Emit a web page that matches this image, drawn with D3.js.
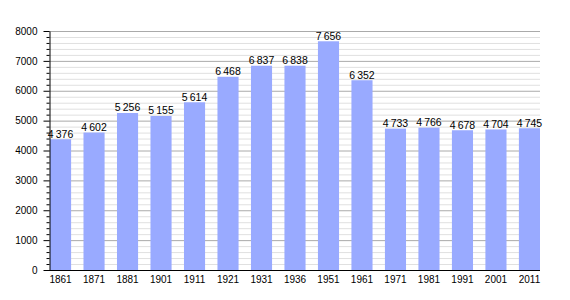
<!DOCTYPE html>
<html>
<head>
<meta charset="utf-8">
<script src="https://cdn.jsdelivr.net/npm/d3@7"></script>
<style>
body { margin: 0; background: #fff; }
text { font-family: "Liberation Sans", Arial, sans-serif; }
</style>
</head>
<body>
<svg id="chart"></svg>
<script>
// data
var years = ["1861", "1871", "1881", "1901", "1911", "1921", "1931", "1936", "1951", "1961", "1971", "1981", "1991", "2001", "2011"];
var population = [4376, 4602, 5256, 5155, 5614, 6468, 6837, 6838, 7656, 6352, 4733, 4766, 4678, 4704, 4745];
var yTicks = [0, 1000, 2000, 3000, 4000, 5000, 6000, 7000, 8000];

var width = 570, height = 300;
var mLeft = 49, mRight = 540, mTop = 31, mBottom = 270;

var svg = d3.select("#chart").attr("width", width).attr("height", height);

var x = d3.scaleBand().domain(years).range([mLeft + 1, mRight]).paddingInner(0.37).paddingOuter(0);
var y = d3.scaleLinear().domain([0, 8000]).range([mBottom, mTop]);

// minor grid every 200
var minor = d3.range(200, 8001, 200).filter(v => v % 1000 !== 0);
svg.selectAll(".minor").data(minor).enter().append("line")
    .attr("x1", mLeft).attr("x2", mRight)
    .attr("y1", d => y(d) + 0.5).attr("y2", d => y(d) + 0.5)
    .attr("stroke", "#e0e0e0");
svg.selectAll(".major").data(yTicks.slice(1)).enter().append("line")
    .attr("x1", mLeft).attr("x2", mRight)
    .attr("y1", d => y(d) + 0.5).attr("y2", d => y(d) + 0.5)
    .attr("stroke", "#aaaaaa");

// bars
svg.selectAll(".bar").data(population).enter().append("rect")
    .attr("x", (d, i) => x(years[i]))
    .attr("width", x.bandwidth())
    .attr("y", d => y(d))
    .attr("height", d => mBottom - y(d))
    .attr("fill", "#99aaff");

// value labels
var fmt = d3.formatLocale({ decimal: ",", thousands: "\u2009", grouping: [3] }).format(",");
svg.selectAll(".label").data(population).enter().append("text")
    .attr("x", (d, i) => x(years[i]) + x.bandwidth() / 2)
    .attr("y", d => y(d) - 1.5)
    .attr("text-anchor", "middle")
    .attr("font-size", 10.5)
    .attr("fill", "#000")
    .text(d => fmt(d));

// y axis
var yAxis = svg.append("g").attr("transform", "translate(" + (mLeft + 0.5) + ",0)")
    .call(d3.axisLeft(y).tickValues(yTicks).tickFormat(d3.format("d")).tickSize(6).tickSizeOuter(0).tickPadding(6));
yAxis.select(".domain").attr("stroke", "#000");
yAxis.selectAll("text").attr("font-size", 10).attr("font-family", "Liberation Sans, Arial, sans-serif").attr("fill", "#000");
svg.append("g").attr("transform", "translate(" + (mLeft + 0.5) + ",0)")
    .call(d3.axisLeft(y).tickValues(minor).tickSize(3).tickFormat(""))
    .select(".domain").remove();

// x axis
var xAxis = svg.append("g").attr("transform", "translate(0," + (mBottom + 0.5) + ")")
    .call(d3.axisBottom(x).tickSize(0).tickPadding(5));
xAxis.select(".domain").attr("d", "M" + mLeft + ",0H" + mRight).attr("stroke", "#000");
xAxis.selectAll("text").attr("font-size", 10).attr("font-family", "Liberation Sans, Arial, sans-serif").attr("fill", "#000");
</script>
</body>
</html>
